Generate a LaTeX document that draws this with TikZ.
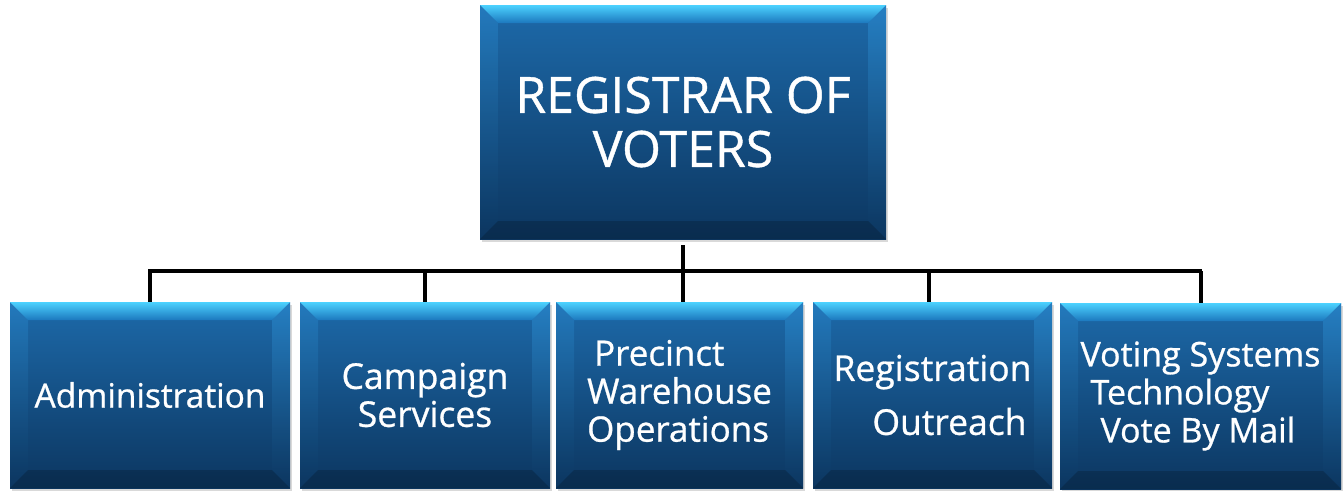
\documentclass[tikz,border=0pt]{standalone}
\usepackage{fontspec}
\setmainfont{Open Sans}[FakeBold=0.8]
\newfontfamily\boxfont{Open Sans}[FakeBold=0.8]
\usetikzlibrary{shadows}
\definecolor{bevtop}{HTML}{4CD2FF}
\definecolor{bevbot}{HTML}{1C78BE}
\definecolor{facetop}{HTML}{1D6AAA}
\definecolor{facemid}{HTML}{215988}
\definecolor{facebot}{HTML}{0C3660}
\definecolor{bevside}{HTML}{2C8ED4}
\newcommand{\bvs}{18pt}
\tikzset{
  orgbox/.style={rectangle, inner sep=0pt, text=white, draw=none,
    drop shadow={opacity=0.3, shadow xshift=1.5pt, shadow yshift=-2.5pt},
    path picture={
      \coordinate (ppnw) at (path picture bounding box.north west);
      \coordinate (ppne) at (path picture bounding box.north east);
      \coordinate (ppsw) at (path picture bounding box.south west);
      \coordinate (ppse) at (path picture bounding box.south east);
      \shade[top color=facetop, middle color=facemid, bottom color=facebot] (ppsw) rectangle (ppne);
      \shade[top color=bevside, bottom color=facebot, opacity=0.45]
        (ppnw) -- ([shift={(\bvs,-\bvs)}]ppnw) -- ([shift={(\bvs,\bvs)}]ppsw) -- (ppsw) -- cycle;
      \shade[top color=bevside, bottom color=facebot, opacity=0.6]
        (ppne) -- ([shift={(-\bvs,-\bvs)}]ppne) -- ([shift={(-\bvs,\bvs)}]ppse) -- (ppse) -- cycle;
      \fill[black, opacity=0.18]
        (ppsw) -- ([shift={(\bvs,\bvs)}]ppsw) -- ([shift={(-\bvs,\bvs)}]ppse) -- (ppse) -- cycle;
      \shade[top color=bevtop, bottom color=bevbot]
        (ppnw) -- (ppne) -- ([shift={(-\bvs,-\bvs)}]ppne) -- ([shift={(\bvs,-\bvs)}]ppnw) -- cycle;
    }},
  topbox/.style={orgbox, minimum width=406pt, minimum height=234pt,
    font=\boxfont\fontsize{50}{54}\selectfont, align=center},
  subbox/.style={orgbox, minimum height=186pt,
    font=\boxfont\fontsize{#1}{38}\selectfont},
  subbox/.default=34,
  conn/.style={line width=4pt, black}
}
\begin{document}
\begin{tikzpicture}[x=1pt, y=-1pt]
\useasboundingbox (0,0) rectangle (1343,490);
\node[topbox] (reg) at (683,122) {REGISTRAR OF\\VOTERS};
\node[subbox=33.5, minimum width=280pt, align=center] (adm) at (150,395) {Administration};
\node[subbox=35.5, minimum width=250pt, align=center] (camp) at (425,395) {Campaign\\Services};
\node[subbox=35, minimum width=247pt, align=left] (prec) at (679.5,395) {\hspace*{7pt}Precinct\\Warehouse\\Operations};
\node[subbox=35.5, minimum width=239pt, align=right] (regout) at (932.5,395) {Registration\\[16pt]Outreach\hspace*{5pt}};
\node[subbox=34, minimum width=281pt, align=left] (vote) at (1200.5,396) {Voting Systems\\\hspace*{10pt}Technology\\\hspace*{20pt}Vote By Mail};
\coordinate (busL) at (150,271);
\coordinate (busR) at (1200,271);
\draw[conn, line cap=rect] (busL) -- (busR);
\draw[conn] (reg.south) ++(0,-6pt) -- (reg.south |- busL);
\draw[conn] (adm.north) -- (adm.north |- busL);
\draw[conn] (camp.north) -- (camp.north |- busL);
\draw[conn] (reg.south |- prec.north) -- (reg.south |- busL);
\draw[conn] ([xshift=-4pt]regout.north) -- ([xshift=-4pt]regout.north |- busL);
\draw[conn] (vote.north) -- (vote.north |- busL);
\end{tikzpicture}
\end{document}
